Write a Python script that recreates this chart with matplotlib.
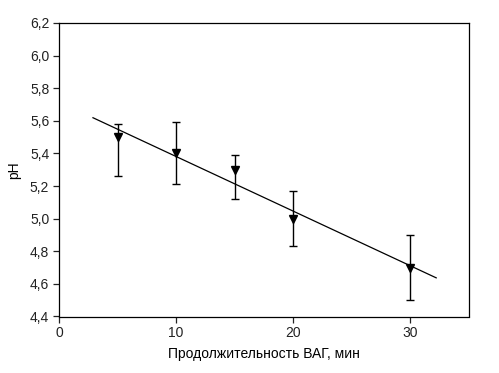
import numpy as np
import matplotlib
matplotlib.use("Agg")
import matplotlib.pyplot as plt
from matplotlib.ticker import FuncFormatter, MultipleLocator

plt.rcParams['font.family'] = ['Liberation Sans', 'DejaVu Sans']

# data
duration = [5, 10, 15, 20, 30]
ph_mean = [5.50, 5.40, 5.30, 5.00, 4.70]
ph_upper = [5.58, 5.59, 5.39, 5.17, 4.90]
ph_lower = [5.26, 5.21, 5.12, 4.83, 4.50]
fit_range = [2.9, 32.2]

x = np.array(duration)
y = np.array(ph_mean)
err = [y - np.array(ph_lower), np.array(ph_upper) - y]

fig = plt.figure(figsize=(4.99, 3.73), dpi=100)
ax = fig.add_axes([59/499, 1 - 316.5/373, (469-59)/499, (316.5-23)/373])

slope, intercept = np.polyfit(x, y, 1)
xf = np.array(fit_range)
ax.plot(xf, slope * xf + intercept, color='black', lw=0.9)

ax.errorbar(x, y, yerr=err, fmt='v', color='black', ms=6, ecolor='black',
            elinewidth=1.0, capsize=3.2, capthick=1.0)

ax.set_xlim(0, 35)
ax.set_ylim(4.4, 6.2)
ax.xaxis.set_major_locator(MultipleLocator(10))
ax.yaxis.set_major_locator(MultipleLocator(0.2))
ax.yaxis.set_major_formatter(FuncFormatter(lambda v, p: f"{v:.1f}".replace('.', ',')))
ax.tick_params(direction='out', length=4, width=0.9, labelsize=10, colors='#222222',
               top=False, right=False, pad=3)
for s in ax.spines.values():
    s.set_linewidth(0.9)

ax.set_xlabel('Продолжительность ВАГ, мин', fontsize=10, labelpad=5)
ax.set_ylabel('pH', fontsize=10, labelpad=6)

fig.savefig('out.png', dpi=100)
